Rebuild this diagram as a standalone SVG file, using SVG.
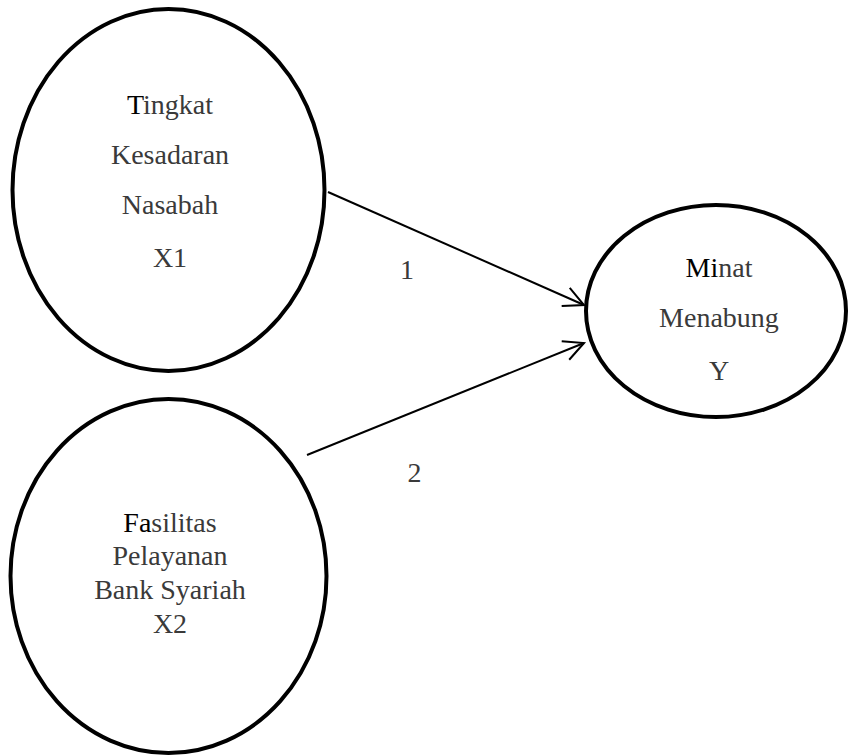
<svg xmlns="http://www.w3.org/2000/svg" width="848" height="755" viewBox="0 0 848 755">
<style>
.node{fill:#fff;stroke:#000;stroke-width:4}
.b{fill:#000}
.edge{stroke:#000;stroke-width:2;fill:none;marker-end:url(#arr)}
</style>
<defs>
<marker id="arr" markerUnits="userSpaceOnUse" markerWidth="30" markerHeight="30" viewBox="-25 -15 30 30" refX="0" refY="0" orient="auto">
<path d="M-20,-10 L0,0 L-20,10" fill="none" stroke="#000" stroke-width="2"/>
</marker>
</defs>
<g font-family="Liberation Serif, Times New Roman, serif" font-size="28" fill="#3a3a3a" text-anchor="middle">
<g id="connectors">
<line class="edge" x1="328" y1="192" x2="584" y2="305"/>
<line class="edge" x1="307" y1="455" x2="584" y2="343"/>
<text x="407" y="279">1</text>
<text x="414.5" y="482">2</text>
</g>
<g id="x1">
<ellipse class="node" cx="168.5" cy="190" rx="156" ry="181"/>
<text x="170" y="114"><tspan class="b">T</tspan>ingkat</text>
<text x="170" y="164">Kesadaran</text>
<text x="170" y="214">Nasabah</text>
<text x="170" y="267">X1</text>
</g>
<g id="x2">
<ellipse class="node" cx="168.5" cy="576" rx="158" ry="177"/>
<text x="170" y="532"><tspan class="b">Fa</tspan>silitas</text>
<text x="170" y="565">Pelayanan</text>
<text x="170" y="599">Bank Syariah</text>
<text x="170" y="633">X2</text>
</g>
<g id="y">
<ellipse class="node" cx="716" cy="311" rx="130" ry="106"/>
<text x="719" y="277"><tspan class="b">Mi</tspan>nat</text>
<text x="719" y="327">Menabung</text>
<text x="719" y="380">Y</text>
</g>
</g>
</svg>
